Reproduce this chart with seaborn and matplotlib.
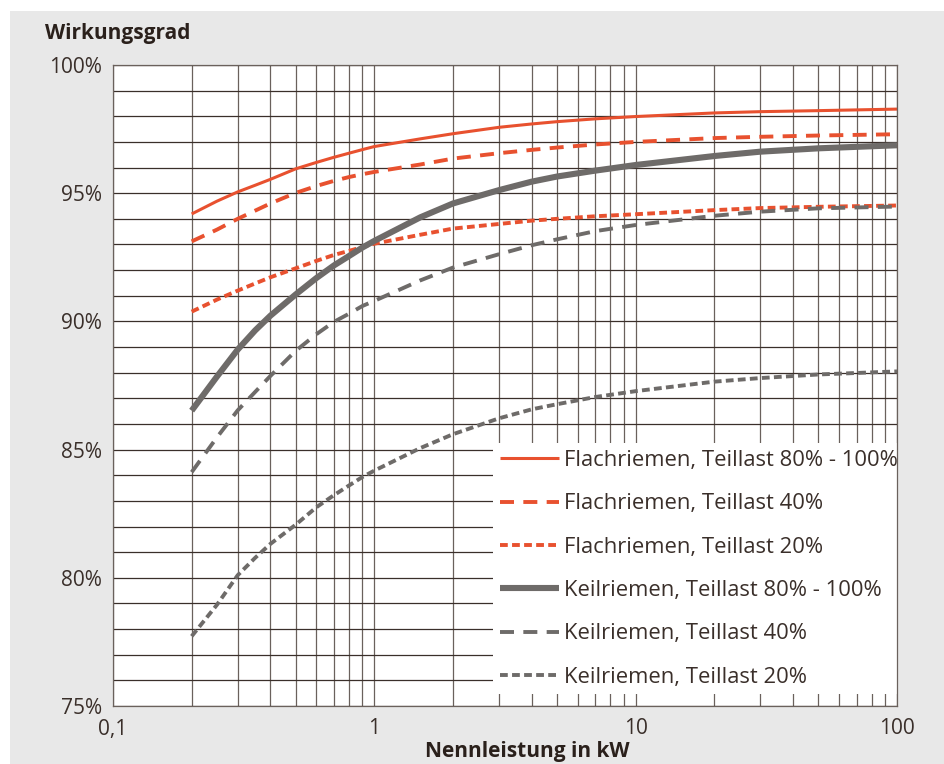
import numpy as np
import pandas as pd
import matplotlib
matplotlib.use("Agg")
import matplotlib.pyplot as plt
from matplotlib.patches import Rectangle
from matplotlib.ticker import FixedLocator, FixedFormatter, NullFormatter
import seaborn as sns

# ---- data ----
leistung_kw = [0.2, 0.25, 0.3, 0.35, 0.4, 0.5, 0.6, 0.7, 0.8, 0.9, 1,
               1.5, 2, 3, 4, 5, 7, 10, 20, 30, 50, 100]
flach_80_100 = [94.19, 94.69, 95.05, 95.31, 95.54, 95.95, 96.2, 96.4, 96.56, 96.7, 96.82,
                97.12, 97.32, 97.57, 97.7, 97.79, 97.9, 97.99, 98.13, 98.18, 98.22, 98.28]
flach_40 = [93.12, 93.58, 94.0, 94.32, 94.6, 95.01, 95.28, 95.48, 95.63, 95.74, 95.83,
            96.12, 96.35, 96.56, 96.69, 96.78, 96.9, 97.0, 97.15, 97.2, 97.25, 97.3]
flach_20 = [90.38, 90.85, 91.2, 91.48, 91.72, 92.07, 92.36, 92.59, 92.75, 92.9, 93.03,
            93.38, 93.62, 93.8, 93.93, 94.0, 94.1, 94.18, 94.34, 94.42, 94.47, 94.52]
keil_80_100 = [86.52, 87.85, 88.9, 89.65, 90.22, 91.05, 91.69, 92.18, 92.55, 92.88, 93.14,
               94.06, 94.6, 95.12, 95.45, 95.65, 95.88, 96.1, 96.45, 96.62, 96.75, 96.87]
keil_40 = [84.12, 85.48, 86.53, 87.25, 87.87, 88.85, 89.5, 89.98, 90.3, 90.6, 90.8,
           91.6, 92.1, 92.62, 92.97, 93.2, 93.52, 93.76, 94.12, 94.28, 94.41, 94.48]
keil_20 = [77.72, 78.95, 80.1, 80.78, 81.32, 82.07, 82.75, 83.22, 83.6, 83.93, 84.18,
           85.06, 85.6, 86.22, 86.57, 86.77, 87.05, 87.28, 87.65, 87.79, 87.93, 88.05]

series_labels = [
    "Flachriemen, Teillast 80% - 100%",
    "Flachriemen, Teillast 40%",
    "Flachriemen, Teillast 20%",
    "Keilriemen, Teillast 80% - 100%",
    "Keilriemen, Teillast 40%",
    "Keilriemen, Teillast 20%",
]
series_values = [flach_80_100, flach_40, flach_20, keil_80_100, keil_40, keil_20]

x_ticks = [0.1, 1, 10, 100]
x_tick_labels = ["0,1", "1", "10", "100"]
y_ticks = [75, 80, 85, 90, 95, 100]
y_tick_labels = ["75%", "80%", "85%", "90%", "95%", "100%"]

# ---- style ----
sns.set_theme(style="white")
plt.rcParams["font.family"] = ["Open Sans", "DejaVu Sans"]

RED = "#e8512f"
GREY = "#6e6b69"
TXT = "#3a2f2a"
styles = [
    dict(color=RED, lw=2.2, dashes=None),
    dict(color=RED, lw=2.8, dashes=(3.6, 2.4)),
    dict(color=RED, lw=2.8, dashes=(2.0, 1.1)),
    dict(color=GREY, lw=4.4, dashes=None),
    dict(color=GREY, lw=2.8, dashes=(3.6, 2.4)),
    dict(color=GREY, lw=2.8, dashes=(2.0, 1.1)),
]

fig = plt.figure(figsize=(9.44, 7.64), dpi=100, facecolor="white")
fig.patches.append(Rectangle((10 / 944, 0), 1 - 10 / 944, 1 - 11 / 764,
                             transform=fig.transFigure, facecolor="#e8e8e8",
                             edgecolor="none", zorder=-10))
ax = fig.add_axes([113 / 944, 1 - 706 / 764, (897 - 113) / 944, (706 - 65) / 764])
ax.set_facecolor("white")

rows = []
for lab, vals in zip(series_labels, series_values):
    for xv, yv in zip(leistung_kw, vals):
        rows.append({"kW": xv, "eta": yv, "serie": lab})
df = pd.DataFrame(rows)

handles = []
for lab, st in zip(series_labels, styles):
    sub = df[df["serie"] == lab]
    sns.lineplot(data=sub, x="kW", y="eta", ax=ax, color=st["color"],
                 linewidth=st["lw"], label=lab, zorder=3, legend=False)
    line = ax.lines[-1]
    if st["dashes"] is not None:
        line.set_dashes(st["dashes"])
    line.set_solid_capstyle("butt")
    line.set_solid_joinstyle("round")
    handles.append(line)

ax.set_xscale("log")
ax.set_xlim(0.1, 100)
ax.set_ylim(75, 100)

# grid
minor_x = [m * 10.0 ** e for e in (-1, 0, 1) for m in range(2, 10)]
for xv in minor_x + x_ticks:
    ax.axvline(xv, color="#6a615c", lw=0.9, zorder=1)
for yv in range(75, 101):
    ax.axhline(yv, color="#3a2f2a", lw=0.9, zorder=1)
for sp in ax.spines.values():
    sp.set_color("#6a615c")
    sp.set_linewidth(0.9)
    sp.set_zorder(6)

ax.xaxis.set_major_locator(FixedLocator(x_ticks))
ax.xaxis.set_major_formatter(FixedFormatter(x_tick_labels))
ax.xaxis.set_minor_formatter(NullFormatter())
ax.yaxis.set_major_locator(FixedLocator(y_ticks))
ax.yaxis.set_major_formatter(FixedFormatter(y_tick_labels))
ax.tick_params(axis="both", which="both", length=0, labelsize=15, colors=TXT)
ax.tick_params(axis="x", pad=9)
ax.tick_params(axis="y", pad=8)
ax.set_xlabel("")
ax.set_ylabel("")

leg = ax.legend(handles=handles, labels=series_labels, loc="lower left",
                bbox_to_anchor=((493 - 113) / 784, 0.018), frameon=True, fancybox=False,
                facecolor="white", edgecolor="none", framealpha=1,
                fontsize=15.8, handlelength=2.7, handletextpad=0.23,
                labelspacing=1.02, borderpad=0.3, borderaxespad=0)
for t in leg.get_texts():
    t.set_color(TXT)
leg.legendPatch.set_clip_box(ax.bbox)
leg.legendPatch.set_clip_on(True)
leg.set_zorder(5)

fig.text(45 / 944, 1 - 33 / 764, "Wirkungsgrad", fontsize=15, fontweight="bold",
         color="#2a201b", ha="left", va="center")
fig.text(527 / 944, 1 - 751 / 764, "Nennleistung in kW", fontsize=15,
         fontweight="bold", color="#2a201b", ha="center", va="center")

fig.savefig("out.png", dpi=100, facecolor="white")
